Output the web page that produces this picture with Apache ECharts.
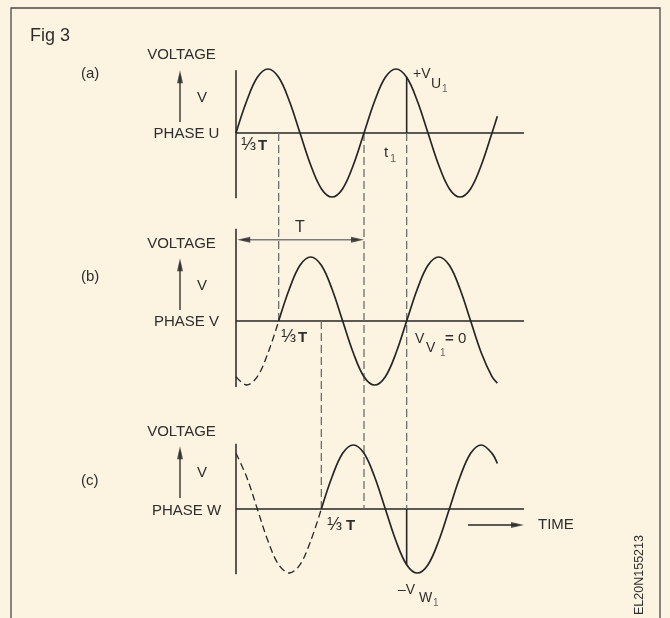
<!DOCTYPE html>
<html>
<head>
<meta charset="utf-8">
<title>Fig 3</title>
<script src="https://cdn.jsdelivr.net/npm/echarts@6/dist/echarts.min.js"></script>
<style>
  html, body { margin: 0; padding: 0; background: #fdf3e1; }
  #chart { width: 670px; height: 618px; }
</style>
</head>
<body>
<div id="chart"></div>
<script>
// ---------- data ----------
// Time samples in periods T (30 degree steps), last sample is where each trace stops.
const timeT = [0, 0.0833, 0.1667, 0.25, 0.3333, 0.4167, 0.5, 0.5833, 0.6667, 0.75, 0.8333, 0.9167,
               1, 1.0833, 1.1667, 1.25, 1.3333, 1.4167, 1.5, 1.5833, 1.6667, 1.75, 1.8333, 1.9167,
               2, 2.0417];
// Instantaneous voltage of each phase at those samples (peak = 1).
const voltU = [0, 0.5, 0.87, 1, 0.87, 0.5, 0, -0.5, -0.87, -1, -0.87, -0.5,
               0, 0.5, 0.87, 1, 0.87, 0.5, 0, -0.5, -0.87, -1, -0.87, -0.5, 0, 0.26];
const voltV = [-0.87, -1, -0.87, -0.5, 0, 0.5, 0.87, 1, 0.87, 0.5, 0, -0.5,
               -0.87, -1, -0.87, -0.5, 0, 0.5, 0.87, 1, 0.87, 0.5, 0, -0.5, -0.87, -0.97];
const voltW = [0.87, 0.5, 0, -0.5, -0.87, -1, -0.87, -0.5, 0, 0.5, 0.87, 1,
               0.87, 0.5, 0, -0.5, -0.87, -1, -0.87, -0.5, 0, 0.5, 0.87, 1, 0.87, 0.71];
// Sample index where each phase's solid trace begins (1/3 T lag per phase).
const solidFrom = [0, 4, 8];
// Sample indices of the guide instants: 1/3 T, 2/3 T, T and t1.
const idxThird = 4, idxTwoThirds = 8, idxPeriod = 12, idxT1 = 16;

// ---------- layout ----------
const INK = '#262626';
const GUIDE = '#6e6e6e';
const FONT = '"Liberation Sans", Arial, sans-serif';
const PANEL_BASE = [0, -2.9375, -5.875];       // zero line of each panel
const AXIS_TOP = [0.98, 1.44, 1.02];           // vertical axis extent above zero
const AXIS_BOTTOM = [-1.02, -1.03, -1.02];     // and below zero
const BASELINE_END = 2.25;                     // zero line length in T
const ARROW_X = -0.4375;                       // the small "V" arrows
const SMOOTH = 0.35;

const series = [];
function seg(points, lineStyle, extra) {
  return Object.assign({
    type: 'line', data: points, symbol: 'none', silent: true,
    animation: false, lineStyle: lineStyle, z: 3
  }, extra || {});
}
const solid = (w) => ({ color: INK, width: w || 1.3 });
const dashed = { color: GUIDE, width: 1.3, type: [8, 4] };

// axes of each panel
PANEL_BASE.forEach((b, p) => {
  series.push(seg([[0, b], [BASELINE_END, b]], solid(1.3)));
  series.push(seg([[0, b + AXIS_TOP[p]], [0, b + AXIS_BOTTOM[p]]], solid(1.5)));
});

// the three phase voltages
[voltU, voltV, voltW].forEach((v, p) => {
  const pts = timeT.map((t, i) => [t, PANEL_BASE[p] + v[i]]);
  const s = solidFrom[p];
  if (s > 0) {
    series.push(seg(pts.slice(0, s + 1), { color: INK, width: 1.3, type: [7, 4] }, { smooth: SMOOTH }));
  }
  series.push(seg(pts.slice(s), solid(1.7), { smooth: SMOOTH, z: 4 }));
});

// dashed guides between panels
series.push(seg([[timeT[idxThird], PANEL_BASE[0]], [timeT[idxThird], PANEL_BASE[1]]], dashed));
series.push(seg([[timeT[idxTwoThirds], PANEL_BASE[1]], [timeT[idxTwoThirds], PANEL_BASE[2]]], dashed));
series.push(seg([[timeT[idxPeriod], PANEL_BASE[0]], [timeT[idxPeriod], PANEL_BASE[2]]], dashed));
series.push(seg([[timeT[idxT1], PANEL_BASE[0]], [timeT[idxT1], PANEL_BASE[2]]], dashed));
// instant t1: +V_U1 and -V_W1
series.push(seg([[timeT[idxT1], PANEL_BASE[0] + voltU[idxT1]], [timeT[idxT1], PANEL_BASE[0]]], solid(1.6)));
series.push(seg([[timeT[idxT1], PANEL_BASE[2]], [timeT[idxT1], PANEL_BASE[2] + voltW[idxT1]]], solid(1.6)));

// arrows: shafts
const heads = [];
PANEL_BASE.forEach((b) => {
  series.push(seg([[ARROW_X, b + 0.17], [ARROW_X, b + 0.9]], solid(1.3)));
  heads.push({ value: [ARROW_X, b + 0.98], symbolRotate: 0, symbolOffset: [0, 6.5] });
});
const periodY = PANEL_BASE[1] + 1.27;
series.push(seg([[timeT[0] + 0.05, periodY], [timeT[idxPeriod] - 0.05, periodY]], { color: '#7a7a7a', width: 1.6 }));
heads.push({ value: [timeT[0] + 0.01, periodY], symbolRotate: 90, symbolOffset: [6.5, 0] });
heads.push({ value: [timeT[idxPeriod], periodY], symbolRotate: -90, symbolOffset: [-6.5, 0] });
const timeY = PANEL_BASE[2] - 0.25;
series.push(seg([[1.8125, timeY], [2.2, timeY]], solid(1.3)));
heads.push({ value: [BASELINE_END, timeY], symbolRotate: -90, symbolOffset: [-6.5, 0] });
series.push({
  type: 'scatter', data: heads, symbol: 'triangle', symbolSize: [6, 13],
  itemStyle: { color: INK }, silent: true, animation: false, z: 5
});

// ---------- text ----------
function txt(text, x, y, size, opts) {
  return Object.assign({
    type: 'text', x: x, y: y, silent: true,
    style: Object.assign({
      text: text, font: size + 'px ' + FONT, fill: '#2e2e2e',
      textAlign: 'left', textVerticalAlign: 'middle'
    }, (opts && opts.style) || {})
  }, (opts && opts.el) || {});
}
const center = { style: { textAlign: 'center' } };
const bold = (size) => ({ style: { font: 'bold ' + size + 'px ' + FONT } });
const sub = { style: { fill: '#666' } };
const graphic = [
  { type: 'rect', shape: { x: 11, y: 8, width: 649, height: 700 },
    style: { fill: 'none', stroke: '#4a4a4a', lineWidth: 1.3 }, silent: true, z: 1 },
  txt('Fig 3', 30, 36, 18),
  txt('(a)', 81, 74, 15), txt('(b)', 81, 277, 15), txt('(c)', 81, 481, 15),
  txt('VOLTAGE', 181.5, 55, 15, center), txt('VOLTAGE', 181.5, 244, 15, center), txt('VOLTAGE', 181.5, 432, 15, center),
  txt('V', 197, 98, 15), txt('V', 197, 286, 15), txt('V', 197, 473, 15),
  txt('PHASE U', 186.5, 134, 15, center), txt('PHASE V', 186.5, 322, 15, center), txt('PHASE W', 186.5, 511, 15, center),
  // 1/3 T marks
  txt('\u2153', 241, 145, 18), txt('T', 258, 146, 15, bold(15)),
  txt('\u2153', 281, 337, 18), txt('T', 298, 338, 15, bold(15)),
  txt('\u2153', 327, 525, 18), txt('T', 346, 526, 15, bold(15)),
  // period arrow label
  txt('T', 300, 228, 16, { style: { textAlign: 'center', font: '16px ' + FONT } }),
  txt('t', 384, 153, 15), txt('1', 390, 159, 11, sub),
  txt('+V', 413, 74, 14), txt('U', 431, 84, 14), txt('1', 442, 89, 10, sub),
  txt('V', 415, 339, 14), txt('V', 426, 348, 14), txt('1', 440, 353, 10, sub),
  txt('=', 445, 339, 15, bold(15)), txt('0', 458, 339, 15),
  txt('\u2013V', 398, 590, 14), txt('W', 419, 598, 14), txt('1', 433, 603, 10, sub),
  txt('TIME', 538, 525, 15),
  txt('EL20N155213', 640, 575, 12.5, { style: { textAlign: 'center' }, el: { rotation: Math.PI / 2 } })
];

const chart = echarts.init(document.getElementById('chart'), null, { renderer: 'canvas' });
chart.setOption({
  backgroundColor: '#fdf3e1',
  animation: false,
  grid: { left: 0, right: 0, top: 0, bottom: 0, containLabel: false },
  xAxis: { type: 'value', min: -1.84375, max: 3.390625, show: false },
  yAxis: { type: 'value', min: -7.578125, max: 2.078125, show: false },
  series: series,
  graphic: graphic
});
</script>
</body>
</html>
